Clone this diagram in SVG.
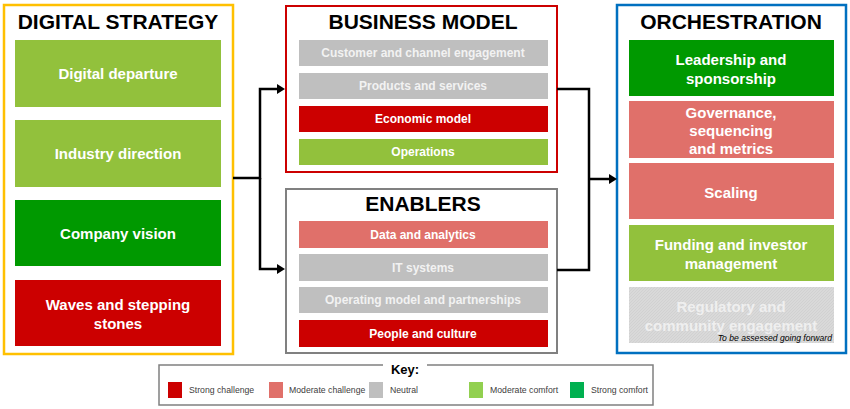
<svg xmlns="http://www.w3.org/2000/svg" width="850" height="409" viewBox="0 0 850 409">
<defs>
<pattern id="hatch" width="3" height="3" patternUnits="userSpaceOnUse"><rect width="3" height="3" fill="#D9D9D9"/><path d="M0,3 L3,0" stroke="#CFCFCF" stroke-width="0.8"/></pattern>
<style>
text{font-family:"Liberation Sans",Arial,sans-serif}
.title{font-size:21px;font-weight:bold;fill:#000;text-anchor:middle}
.big{font-size:15px;font-weight:bold;fill:#fff;text-anchor:middle}
.sm{font-size:12px;font-weight:bold;fill:#fff;text-anchor:middle}
.gt{fill:#F2F2F2}
.key{font-size:8.7px;fill:#404040}
.lg{fill:#92C13C}.dg{fill:#009900}.rd{fill:#CC0000}.sal{fill:#E0706A}.gr{fill:#BFBFBF}
.conn{fill:none;stroke:#000;stroke-width:2.5}
</style>
</defs>
<g id="digital-strategy">
<rect x="4" y="5" width="229" height="349" fill="#fff" stroke="#FFC000" stroke-width="2.5"/>
<text class="title" x="118" y="29">DIGITAL STRATEGY</text>
<rect class="lg" x="15" y="40" width="206" height="67"/>
<text class="big" x="118" y="79">Digital departure</text>
<rect class="lg" x="15" y="120" width="206" height="67"/>
<text class="big" x="118" y="159">Industry direction</text>
<rect class="dg" x="15" y="200" width="206" height="66"/>
<text class="big" x="118" y="239">Company vision</text>
<rect class="rd" x="15" y="280" width="206" height="66"/>
<text class="big" x="118" y="310">Waves and stepping</text>
<text class="big" x="118" y="329">stones</text>
</g>
<g id="business-model">
<rect x="286" y="6" width="271" height="166" fill="#fff" stroke="#CC0000" stroke-width="2"/>
<text class="title" x="423" y="29">BUSINESS MODEL</text>
<rect class="gr" x="299" y="40" width="249" height="26"/>
<text class="sm gt" x="423" y="57">Customer and channel engagement</text>
<rect class="gr" x="299" y="73" width="249" height="26"/>
<text class="sm gt" x="423" y="90">Products and services</text>
<rect class="rd" x="299" y="106" width="249" height="26"/>
<text class="sm" x="423" y="123">Economic model</text>
<rect class="lg" x="299" y="139" width="249" height="26"/>
<text class="sm" x="423" y="156">Operations</text>
</g>
<g id="enablers">
<rect x="286" y="189" width="271" height="164" fill="#fff" stroke="#808080" stroke-width="2"/>
<text class="title" x="423" y="211">ENABLERS</text>
<rect class="sal" x="299" y="221" width="249" height="27"/>
<text class="sm" x="423" y="239">Data and analytics</text>
<rect class="gr" x="299" y="254" width="249" height="27"/>
<text class="sm gt" x="423" y="272">IT systems</text>
<rect class="gr" x="299" y="287" width="249" height="26"/>
<text class="sm gt" x="423" y="304">Operating model and partnerships</text>
<rect class="rd" x="299" y="320" width="249" height="27"/>
<text class="sm" x="423" y="338">People and culture</text>
</g>
<g id="orchestration">
<rect x="617" y="5" width="229" height="348" fill="#fff" stroke="#0070C0" stroke-width="2.5"/>
<text class="title" x="731" y="29">ORCHESTRATION</text>
<rect class="dg" x="629" y="40" width="205" height="56"/>
<text class="big" x="731" y="65">Leadership and</text>
<text class="big" x="731" y="84">sponsorship</text>
<rect class="sal" x="629" y="101" width="205" height="57"/>
<text class="big" x="731" y="118">Governance,</text>
<text class="big" x="731" y="136">sequencing</text>
<text class="big" x="731" y="154">and metrics</text>
<rect class="sal" x="629" y="163" width="205" height="56"/>
<text class="big" x="731" y="198">Scaling</text>
<rect class="lg" x="629" y="225" width="205" height="56"/>
<text class="big" x="731" y="250">Funding and investor</text>
<text class="big" x="731" y="269">management</text>
<rect x="629" y="287" width="205" height="56" fill="url(#hatch)"/>
<text class="big" x="731" y="312" style="fill:#EFEFEF">Regulatory and</text>
<text class="big" x="731" y="331" style="fill:#EFEFEF">community engagement</text>
<text x="832" y="341" text-anchor="end" font-size="8.6" font-style="italic" fill="#000">To be assessed going forward</text>
</g>
<g id="connectors">
<path class="conn" d="M233,178 H260 V89 H277"/>
<path class="conn" d="M260,178 V269 H277"/>
<path d="M277,84 L285,89 L277,94 z M277,264 L285,269 L277,274 z" fill="#000"/>
<path class="conn" d="M557,89 H589 V270 H557"/>
<path class="conn" d="M589,179 H609"/>
<path d="M609,174 L617,179 L609,184 z" fill="#000"/>
</g>
<g id="key">
<path d="M383,365 H159 V405 H653 V365 H427" fill="none" stroke="#808080" stroke-width="1.5"/>
<text x="405" y="374" text-anchor="middle" font-size="13" font-weight="bold" fill="#000">Key:</text>
<rect x="168" y="382" width="14" height="16" fill="#CC0000"/>
<text class="key" x="189" y="393">Strong challenge</text>
<rect x="269" y="382" width="14" height="16" fill="#E0706A"/>
<text class="key" x="289" y="393">Moderate challenge</text>
<rect x="369" y="382" width="14" height="16" fill="#BFBFBF"/>
<text class="key" x="390" y="393">Neutral</text>
<rect x="469" y="382" width="14" height="16" fill="#92D050"/>
<text class="key" x="490" y="393">Moderate comfort</text>
<rect x="570" y="382" width="14" height="16" fill="#00B050"/>
<text class="key" x="591" y="393">Strong comfort</text>
</g>
</svg>
